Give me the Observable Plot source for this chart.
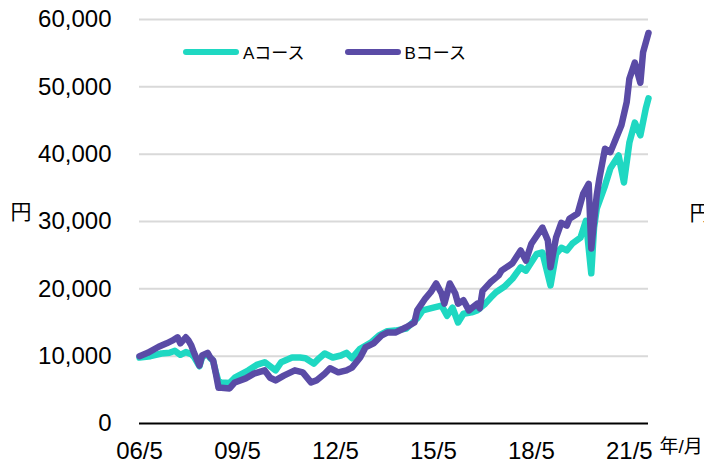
<!DOCTYPE html>
<html>
<head>
<meta charset="utf-8">
<script src="https://cdn.jsdelivr.net/npm/d3@7"></script>
<script src="https://cdn.jsdelivr.net/npm/@observablehq/plot@0.6"></script>
<style>
  html, body { margin: 0; padding: 0; background: #fff; }
  #wrap { position: relative; width: 704px; height: 464px; overflow: hidden;
          font-family: "Liberation Sans", Arial, "Noto Sans CJK JP", sans-serif; }
  #legend { position: absolute; top: 39px; left: 183px; display: flex; align-items: center;
            font-size: 17px; color: #000; }
  .item { display: flex; align-items: center; }
  .swatch { width: 56px; height: 6px; border-radius: 3px; margin-right: 4px; }
</style>
</head>
<body>
<div id="wrap"><div id="legend"></div></div>
<script>
const seriesNames = ["Aコース", "Bコース"];
const seriesColors = ["#1fd8c2", "#5a4ba6"];

const aDates = ["2006-05","2006-09","2007-01","2007-04","2007-06","2007-08","2007-10","2007-12","2008-01","2008-03","2008-04","2008-06","2008-07","2008-08","2008-09","2008-10","2008-11","2009-02","2009-04","2009-09","2009-12","2010-03","2010-07","2010-09","2011-01","2011-04","2011-06","2011-09","2011-11","2012-01","2012-04","2012-07","2012-09","2012-11","2013-02","2013-06","2013-09","2013-12","2014-03","2014-07","2014-11","2015-01","2015-05","2015-08","2015-10","2015-12","2016-02","2016-04","2016-07","2016-09","2016-12","2017-02","2017-04","2017-07","2017-10","2018-01","2018-03","2018-07","2018-09","2018-12","2019-02","2019-04","2019-06","2019-08","2019-11","2020-01","2020-03","2020-04","2020-05","2020-08","2020-10","2021-01","2021-03","2021-05","2021-07","2021-09","2021-11","2021-12"];
const aValues = [9800,10000,10400,10500,10800,10200,10600,10300,9900,8500,9900,10300,9700,9300,7600,6200,6100,6000,6800,7900,8700,9100,7900,9100,9800,9800,9700,8900,9700,10400,9800,10100,10500,9700,11100,12000,13100,13700,13800,14100,15600,16800,17200,17500,16000,17200,15000,16300,16500,16800,17800,18700,19500,20300,21500,23200,22700,25200,25400,20500,25200,26100,25700,26700,27600,30100,22300,29100,31900,35300,37900,39800,35800,41700,44700,42800,46800,48300];

const bDates = ["2006-05","2006-08","2006-12","2007-03","2007-05","2007-07","2007-08","2007-10","2007-11","2007-12","2008-01","2008-03","2008-04","2008-06","2008-07","2008-08","2008-09","2008-10","2008-11","2009-02","2009-04","2009-08","2009-11","2010-03","2010-05","2010-07","2010-10","2011-02","2011-05","2011-08","2011-10","2012-01","2012-03","2012-06","2012-09","2012-11","2013-02","2013-04","2013-07","2013-10","2013-12","2014-03","2014-07","2014-10","2014-11","2015-02","2015-04","2015-06","2015-08","2015-09","2015-11","2016-01","2016-02","2016-04","2016-06","2016-09","2016-10","2016-11","2017-02","2017-05","2017-06","2017-10","2018-01","2018-03","2018-05","2018-09","2018-11","2018-12","2019-02","2019-04","2019-06","2019-07","2019-10","2019-12","2020-02","2020-03","2020-05","2020-06","2020-08","2020-10","2020-12","2021-02","2021-04","2021-05","2021-07","2021-09","2021-10","2021-12"];
const bValues = [10000,10500,11400,11900,12300,12800,11900,12800,12300,11600,10500,8600,10100,10500,9800,9400,7400,5300,5300,5200,6100,6700,7400,7900,6800,6400,7100,7900,7600,6100,6400,7400,8200,7600,7900,8300,9800,11300,11900,13100,13500,13500,14300,15000,16800,18600,19500,20800,19300,17800,20800,19300,17800,18300,16800,17800,17100,19700,21000,22000,22700,23800,25700,24200,26700,29100,27200,23200,27600,29800,29400,30400,31200,34100,35600,26000,33900,36500,40800,40300,42300,44300,47700,51200,53600,50600,55100,58000];

const xTicks = ["2006-05","2009-05","2012-05","2015-05","2018-05","2021-05"];
const xDomain = ["2006-05","2021-12"];
const yTicks = [0,10000,20000,30000,40000,50000,60000];
const yUnit = "円";
const xUnit = "年/月";

const parse = d3.utcParse("%Y-%m");
const rows = [
  ...aDates.map((d, i) => ({date: parse(d), value: aValues[i], course: seriesNames[0]})),
  ...bDates.map((d, i) => ({date: parse(d), value: bValues[i], course: seriesNames[1]}))
];

const chart = Plot.plot({
  width: 704,
  height: 464,
  marginLeft: 139,
  marginRight: 56,
  marginTop: 19,
  marginBottom: 41,
  style: {
    fontFamily: '"Liberation Sans", Arial, "Noto Sans CJK JP", sans-serif',
    fontSize: "24px",
    color: "#000",
    background: "transparent",
    overflow: "visible"
  },
  x: {
    type: "utc",
    domain: xDomain.map(parse),
    ticks: xTicks.map(parse),
    tickFormat: d3.utcFormat("%y/%-m"),
    tickSize: 0,
    tickPadding: 18,
    label: null
  },
  y: {
    domain: [0, 60000],
    ticks: yTicks,
    tickFormat: d3.format(","),
    tickSize: 0,
    tickPadding: 28,
    label: null
  },
  color: { domain: seriesNames, range: seriesColors },
  marks: [
    Plot.ruleY(yTicks.filter(d => d > 0), {stroke: "#d9d9d9", strokeWidth: 2}),
    Plot.ruleY([0], {stroke: "#000", strokeWidth: 2}),
    Plot.line(rows, {x: "date", y: "value", z: "course", stroke: "course",
      strokeWidth: 6.5, strokeLinejoin: "round", strokeLinecap: "round"}),
    Plot.text([yUnit], {text: d => d, frameAnchor: "left", textAnchor: "start",
      dx: -129, dy: -9, fontSize: 21, fill: "#000"}),
    Plot.text([yUnit], {text: d => d, frameAnchor: "right", textAnchor: "start",
      dx: 41, dy: -8, fontSize: 21, fill: "#000"}),
    Plot.text([xUnit], {text: d => d, frameAnchor: "bottom-right", textAnchor: "start",
      dx: 11, dy: 29, fontSize: 19, fill: "#000"})
  ]
});

const wrap = document.getElementById("wrap");
wrap.insertBefore(chart, wrap.firstChild);

const legend = d3.select("#legend");
seriesNames.forEach((name, i) => {
  const it = legend.append("div").attr("class", "item").style("margin-right", i === 0 ? "40px" : "0");
  it.append("div").attr("class", "swatch").style("background", seriesColors[i]);
  it.append("span").text(name);
});
</script>
</body>
</html>
